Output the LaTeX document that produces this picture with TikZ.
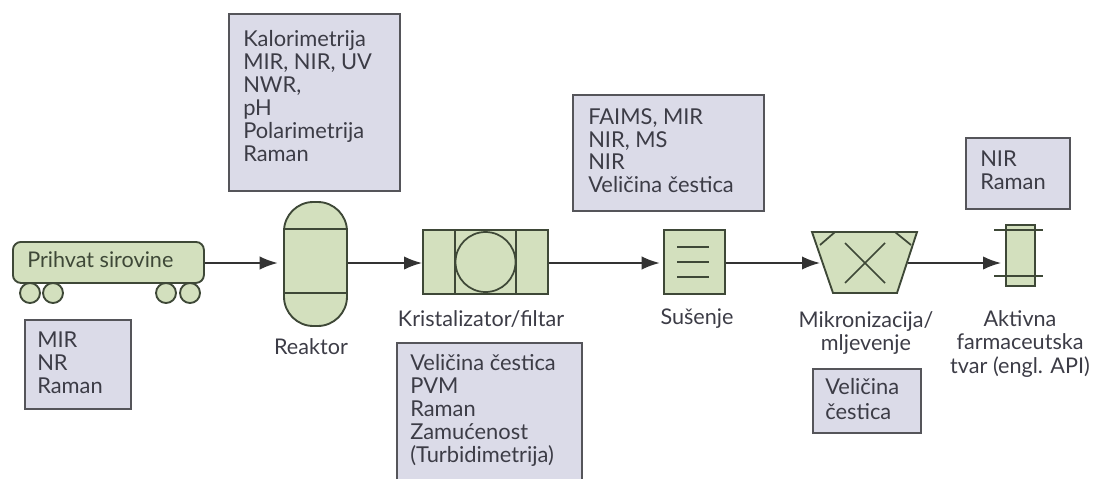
\documentclass[tikz,border=0pt]{standalone}
\usepackage{fontspec}
\setmainfont{Lato}
\usetikzlibrary{arrows.meta}
\definecolor{boxfill}{RGB}{219,219,232}
\definecolor{boxline}{RGB}{85,85,90}
\definecolor{eqfill}{RGB}{211,224,190}
\definecolor{eqline}{RGB}{62,72,55}
\definecolor{txt}{RGB}{60,60,70}
\tikzset{
  x=0.75pt,y=-0.75pt,
  infobox/.style={draw=boxline,fill=boxfill,line width=1.4pt},
  infotext/.style={text=txt,font=\fontsize{16.4}{17.2}\selectfont,align=left,anchor=north west,inner sep=0pt},
  labeltext/.style={text=txt,font=\fontsize{16.2}{17.6}\selectfont,align=center,inner sep=0pt},
  equip/.style={draw=eqline,fill=eqfill,line width=1.4pt},
  equipline/.style={draw=eqline,line width=1.3pt},
  flow/.style={draw=black!80,line width=1.3pt,-{Latex[length=13.5pt,width=10pt]}}
}
\begin{document}
\begin{tikzpicture}
\useasboundingbox (0,0) rectangle (1094,479);
% info boxes
\draw[infobox] (25,320) rectangle (131,409);
\node[infotext] (t1) at (37,332) {MIR\\NR\\Raman};
\draw[infobox] (229,14) rectangle (400,191);
\node[infotext] (t2) at (243,30) {Kalorimetrija\\MIR, NIR, UV\\NWR,\\pH\\Polarimetrija\\Raman};
\fill[boxfill] (397,343) rectangle (582,479);
\draw[boxline,line width=1.4pt] (397,479) -- (397,343) -- (582,343) -- (582,479);
\node[infotext] (t3) at (410,354) {Veličina čestica\\PVM\\Raman\\Zamućenost\\(Turbidimetrija)};
\draw[infobox] (573,95) rectangle (764,211);
\node[infotext] (t4) at (588,108) {FAIMS, MIR\\NIR, MS\\NIR\\Veličina čestica};
\draw[infobox] (813,369) rectangle (921,433);
\node[infotext] (t5) at (825,378) {Veličina\\[1.5pt]čestica};
\draw[infobox] (966,138) rectangle (1070,209);
\node[infotext] (t6) at (980,151) {NIR\\Raman};
% wagon
\draw[equip] (30,293) circle (10);
\draw[equip] (53,293) circle (10);
\draw[equip] (166,293) circle (10);
\draw[equip] (190,293) circle (10);
\node[equip,rounded corners=6pt,minimum width=191*0.75pt,minimum height=41*0.75pt,inner sep=0pt,anchor=north west] (wagon) at (12,241) {};
\node[anchor=west,inner sep=0pt,text=eqline,font=\fontsize{16.2}{17.6}\selectfont] (wagont) at (27,260) {Prihvat sirovine};
% reactor
\node[equip,rounded corners=22pt,minimum width=63*0.75pt,minimum height=124*0.75pt,inner sep=0pt] (reactor) at (315.5,264) {};
\draw[equipline] (284,229) -- (347,229);
\draw[equipline] (284,293) -- (347,293);
\node[labeltext] (l1) at (311,347) {Reaktor};
% crystallizer
\node[equip,minimum width=125*0.75pt,minimum height=64*0.75pt,inner sep=0pt] (cryst) at (485.5,262) {};
\draw[equipline] (455,230) -- (455,294);
\draw[equipline] (516,230) -- (516,294);
\draw[equipline] (485.5,262) circle (30);
\node[labeltext] (l2) at (481,319) {Kristalizator/filtar};
% dryer
\node[equip,minimum width=61*0.75pt,minimum height=64*0.75pt,inner sep=0pt] (dryer) at (694.5,262) {};
\draw[equipline] (677,247) -- (709,247);
\draw[equipline] (677,262) -- (709,262);
\draw[equipline] (677,277) -- (709,277);
\node[labeltext] (l3) at (697,319) {Sušenje};
% mill
\draw[equip] (812,232) -- (917,232) -- (897,293) -- (833,293) -- cycle;
\draw[equipline] (845,243) -- (885,283);
\draw[equipline] (885,243) -- (845,283);
\draw[equipline] (835,232) -- (820,245);
\draw[equipline] (895,232) -- (911,245);
\coordinate (millin) at (820,263);
\coordinate (millout) at (908,263);
\node[labeltext] (l4) at (866,333) {Mikronizacija/\\mljevenje};
% product
\node[equip,minimum width=29*0.75pt,minimum height=61*0.75pt,inner sep=0pt] (api) at (1020.5,255.5) {};
\draw[equipline] (994,230) -- (1043,230);
\draw[equipline] (994,276) -- (1043,276);
\node[labeltext] (l5) at (1020,344) {Aktivna\\farmaceutska\\tvar (engl. API)};
% flow
\draw[flow,shorten >=4pt] (wagon.east |- 0,263) -- (reactor.west |- 0,263);
\draw[flow] (reactor.east |- 0,263) -- (cryst.west |- 0,263);
\draw[flow,shorten >=2.5pt] (cryst.east |- 0,263) -- (dryer.west |- 0,263);
\draw[flow] (dryer.east |- 0,263) -- (millin);
\draw[flow,shorten >=3pt] (millout) -- (api.west |- 0,263);
\end{tikzpicture}
\end{document}
